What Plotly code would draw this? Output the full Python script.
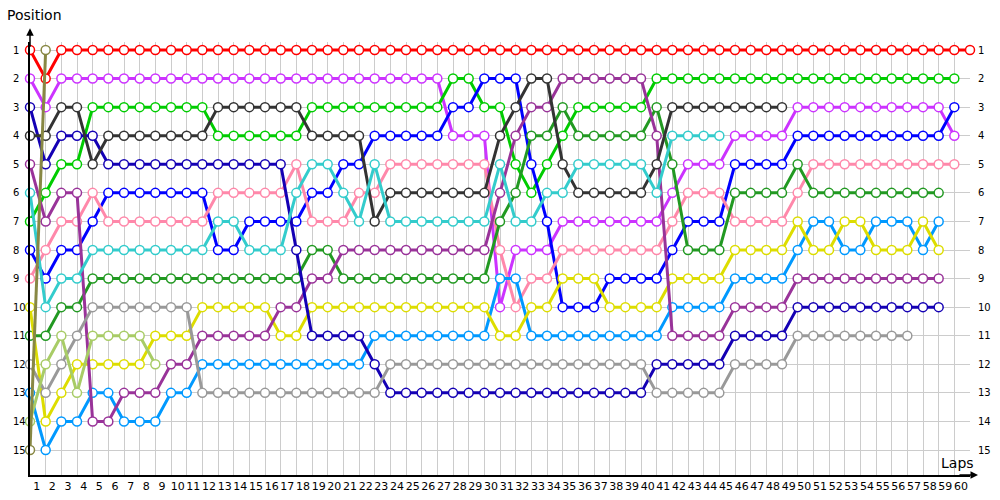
import plotly.graph_objects as go

# ── Lap chart data: race position per lap (index 0 = grid / start) ─────────────
laps = list(range(0, 61))
positions = list(range(1, 16))

red = [1, 2, 1, 1, 1, 1, 1, 1, 1, 1,
       1, 1, 1, 1, 1, 1, 1, 1, 1, 1,
       1, 1, 1, 1, 1, 1, 1, 1, 1, 1,
       1, 1, 1, 1, 1, 1, 1, 1, 1, 1,
       1, 1, 1, 1, 1, 1, 1, 1, 1, 1,
       1, 1, 1, 1, 1, 1, 1, 1, 1, 1, 1]
magenta = [2, 3, 2, 2, 2, 2, 2, 2, 2, 2,
           2, 2, 2, 2, 2, 2, 2, 2, 2, 2,
           2, 2, 2, 2, 2, 2, 2, 4, 4, 4,
           10, 8, 8, 8, 7, 7, 7, 7, 7, 7,
           7, 6, 5, 5, 5, 4, 4, 4, 4, 3,
           3, 3, 3, 3, 3, 3, 3, 3, 3, 4]
navy = [3, 5, 4, 4, 4, 5, 5, 5, 5, 5,
        5, 5, 5, 5, 5, 5, 5, 8, 11, 11,
        11, 11, 12, 13, 13, 13, 13, 13, 13, 13,
        13, 13, 13, 13, 13, 13, 13, 13, 13, 13,
        12, 12, 12, 12, 12, 11, 11, 11, 11, 10,
        10, 10, 10, 10, 10, 10, 10, 10, 10]
black = [4, 4, 3, 3, 5, 4, 4, 4, 4, 4,
         4, 4, 3, 3, 3, 3, 3, 3, 4, 4,
         4, 4, 7, 6, 6, 6, 6, 6, 6, 6,
         4, 3, 2, 2, 5, 6, 6, 6, 6, 6,
         5, 3, 3, 3, 3, 3, 3, 3, 3]
purple = [5, 7, 6, 6, 14, 14, 13, 13, 13, 12,
          12, 11, 11, 11, 11, 11, 10, 10, 9, 9,
          8, 8, 8, 8, 8, 8, 8, 8, 8, 8,
          6, 4, 3, 3, 2, 2, 2, 2, 2, 2,
          4, 11, 11, 11, 11, 10, 10, 10, 10, 9,
          9, 9, 9, 9, 9, 9, 9, 9, 9]
cyan = [6, 10, 9, 9, 8, 8, 8, 8, 8, 8,
        8, 8, 7, 7, 8, 8, 8, 6, 5, 5,
        6, 7, 5, 7, 7, 7, 7, 7, 7, 7,
        5, 7, 7, 6, 6, 5, 5, 5, 5, 5,
        6, 4, 4, 4, 4]
green = [7, 6, 5, 5, 3, 3, 3, 3, 3, 3,
         3, 3, 4, 4, 4, 4, 4, 4, 3, 3,
         3, 3, 3, 3, 3, 3, 3, 2, 2, 3,
         3, 5, 6, 5, 4, 3, 3, 3, 3, 3,
         2, 2, 2, 2, 2, 2, 2, 2, 2, 2,
         2, 2, 2, 2, 2, 2, 2, 2, 2, 2]
blue = [8, 9, 8, 8, 7, 6, 6, 6, 6, 6,
        6, 6, 8, 8, 7, 7, 7, 7, 6, 6,
        5, 5, 4, 4, 4, 4, 4, 3, 3, 2,
        2, 2, 5, 7, 10, 10, 10, 9, 9, 9,
        9, 8, 7, 7, 7, 5, 5, 5, 5, 4,
        4, 4, 4, 4, 4, 4, 4, 4, 4, 3]
pink = [9, 8, 7, 7, 6, 7, 7, 7, 7, 7,
        7, 7, 6, 6, 6, 6, 6, 5, 7, 7,
        7, 6, 6, 5, 5, 5, 5, 5, 5, 5,
        8, 10, 9, 9, 8, 8, 8, 8, 8, 8,
        8, 7, 6, 6, 6, 7, 7, 7, 7, 6,
        5, 5, 5, 5, 5, 5, 5, 5, 5, 5]
yellow = [10, 14, 13, 12, 12, 12, 12, 12, 11, 11,
          11, 10, 10, 10, 10, 10, 11, 11, 10, 10,
          10, 10, 10, 10, 10, 10, 10, 10, 10, 10,
          11, 11, 10, 10, 9, 9, 9, 10, 10, 10,
          10, 9, 9, 9, 9, 8, 8, 8, 8, 7,
          8, 8, 7, 7, 8, 8, 8, 7, 8]
dkgreen = [11, 11, 10, 10, 9, 9, 9, 9, 9, 9,
           9, 9, 9, 9, 9, 9, 9, 9, 8, 8,
           9, 9, 9, 9, 9, 9, 9, 9, 9, 9,
           7, 6, 4, 4, 3, 4, 4, 4, 4, 4,
           3, 5, 8, 8, 8, 6, 6, 6, 6, 5,
           6, 6, 6, 6, 6, 6, 6, 6, 6]
gray = [12, 13, 12, 11, 10, 10, 10, 10, 10, 10,
        10, 13, 13, 13, 13, 13, 13, 13, 13, 13,
        13, 13, 13, 12, 12, 12, 12, 12, 12, 12,
        12, 12, 12, 12, 12, 12, 12, 12, 12, 12,
        13, 13, 13, 13, 13, 12, 12, 12, 12, 11,
        11, 11, 11, 11, 11, 11, 11]
ltblue = [13, 15, 14, 14, 13, 13, 14, 14, 14, 13,
          13, 12, 12, 12, 12, 12, 12, 12, 12, 12,
          12, 12, 11, 11, 11, 11, 11, 11, 11, 11,
          9, 9, 11, 11, 11, 11, 11, 11, 11, 11,
          11, 10, 10, 10, 10, 9, 9, 9, 9, 8,
          7, 7, 8, 8, 7, 7, 7, 8, 7]
yellowgreen = [14, 12, 11, 13, 11, 11, 11, 11, 12]
olive = [15, 1]

drivers = [
    (red, '#FF0000'), (magenta, '#CC33FF'), (green, '#00CC00'),
    (blue, '#0000FF'), (pink, '#FF88AA'), (dkgreen, '#229922'),
    (ltblue, '#0099FF'), (yellow, '#DDDD00'), (purple, '#993399'),
    (navy, '#1400B4'), (gray, '#999999'), (black, '#333333'),
    (cyan, '#33CCCC'), (yellowgreen, '#A8CC66'), (olive, '#888844'),
]

fig = go.Figure()
for pos, color in drivers:
    fig.add_trace(go.Scatter(
        x=laps[:len(pos)], y=pos,
        mode='lines+markers',
        line=dict(color=color, width=3),
        marker=dict(size=9, color='white', line=dict(color=color, width=1.5)),
        cliponaxis=False, showlegend=False, hoverinfo='skip'
    ))

label_font = dict(family='DejaVu Sans', size=10, color='black')
title_font = dict(family='DejaVu Sans', size=14, color='black')

# position labels on both sides (left-aligned, as in the original)
pos_labels = []
for p in positions:
    for xp in (-0.0202, 1.0064):
        pos_labels.append(dict(text=str(p), xref='paper', yref='y', x=xp, y=p,
                               xanchor='left', yanchor='middle', showarrow=False,
                               font=label_font))

fig.update_layout(
    width=1000, height=500,
    margin=dict(l=30, r=30, t=42, b=25),
    paper_bgcolor='white', plot_bgcolor='white',
    xaxis=dict(
        range=[0, 60], tickvals=laps[1:], ticktext=[str(l) for l in laps[1:]],
        showgrid=True, gridcolor='#CCCCCC', gridwidth=1, zeroline=False,
        showline=True, linecolor='black', linewidth=1.5,
        ticks='', ticklabelshift=-9, tickangle=0, automargin=False,
        tickfont=dict(family='DejaVu Sans', size=11, color='black'),
    ),
    yaxis=dict(
        range=[15.875, 0.72], tickvals=positions, showticklabels=False,
        showgrid=True, gridcolor='#CCCCCC', gridwidth=1, zeroline=False,
        showline=True, linecolor='black', linewidth=1.5,
        ticks='', automargin=False,
    ),
    annotations=pos_labels + [
        dict(text='Position', xref='paper', yref='paper', x=-0.027, y=1.062,
             xanchor='left', yanchor='middle', showarrow=False, font=title_font),
        dict(text='Laps', xref='paper', yref='paper', x=0.987, y=0.028,
             xanchor='center', yanchor='middle', showarrow=False, font=title_font),
        # axis arrow heads
        dict(text='', xref='paper', yref='paper', x=1.0085, y=0,
             ax=-20, ay=0, showarrow=True, arrowhead=2, arrowsize=1,
             arrowwidth=1.5, arrowcolor='black'),
        dict(text='', xref='paper', yref='paper', x=0, y=1.032,
             ax=0, ay=20, showarrow=True, arrowhead=2, arrowsize=1,
             arrowwidth=1.5, arrowcolor='black'),
    ],
)

# page margin off so the chart sits at the window's top-left corner
fig.write_html("out.html", config={'displayModeBar': False},
               post_script="document.body.style.margin = '0';")
